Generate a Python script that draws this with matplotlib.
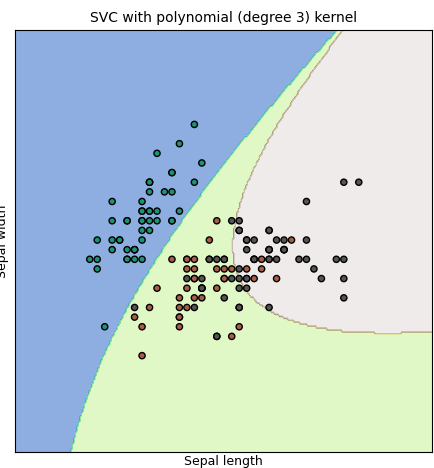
import numpy as np
import matplotlib
matplotlib.use("Agg")
import matplotlib.pyplot as plt

# iris: sepal length / sepal width per species
setosa_length = [5.1, 4.9, 4.7, 4.6, 5.0, 5.4, 4.6, 5.0, 4.4, 4.9, 5.4, 4.8, 4.8, 4.3, 5.8, 5.7, 5.4,
                 5.1, 5.7, 5.1, 5.4, 5.1, 4.6, 5.1, 4.8, 5.0, 5.0, 5.2, 5.2, 4.7, 4.8, 5.4, 5.2, 5.5,
                 4.9, 5.0, 5.5, 4.9, 4.4, 5.1, 5.0, 4.5, 4.4, 5.0, 5.1, 4.8, 5.1, 4.6, 5.3, 5.0]
setosa_width = [3.5, 3.0, 3.2, 3.1, 3.6, 3.9, 3.4, 3.4, 2.9, 3.1, 3.7, 3.4, 3.0, 3.0, 4.0, 4.4, 3.9,
                3.5, 3.8, 3.8, 3.4, 3.7, 3.6, 3.3, 3.4, 3.0, 3.4, 3.5, 3.4, 3.2, 3.1, 3.4, 4.1, 4.2,
                3.1, 3.2, 3.5, 3.1, 3.0, 3.4, 3.5, 2.3, 3.2, 3.5, 3.8, 3.0, 3.8, 3.2, 3.7, 3.3]
versicolor_length = [7.0, 6.4, 6.9, 5.5, 6.5, 5.7, 6.3, 4.9, 6.6, 5.2, 5.0, 5.9, 6.0, 6.1, 5.6, 6.7, 5.6,
                     5.8, 6.2, 5.6, 5.9, 6.1, 6.3, 6.1, 6.4, 6.6, 6.8, 6.7, 6.0, 5.7, 5.5, 5.5, 5.8, 6.0,
                     5.4, 6.0, 6.7, 6.3, 5.6, 5.5, 5.5, 6.1, 5.8, 5.0, 5.6, 5.7, 5.7, 6.2, 5.1, 5.7]
versicolor_width = [3.2, 3.2, 3.1, 2.3, 2.8, 2.8, 3.3, 2.4, 2.9, 2.7, 2.0, 3.0, 2.2, 2.9, 2.9, 3.1, 3.0,
                    2.7, 2.2, 2.5, 3.2, 2.8, 2.5, 2.8, 2.9, 3.0, 2.8, 3.0, 2.9, 2.6, 2.4, 2.4, 2.7, 2.7,
                    3.0, 3.4, 3.1, 2.3, 3.0, 2.5, 2.6, 3.0, 2.6, 2.3, 2.7, 3.0, 2.9, 2.9, 2.5, 2.8]
virginica_length = [6.3, 5.8, 7.1, 6.3, 6.5, 7.6, 4.9, 7.3, 6.7, 7.2, 6.5, 6.4, 6.8, 5.7, 5.8, 6.4, 6.5,
                    7.7, 7.7, 6.0, 6.9, 5.6, 7.7, 6.3, 6.7, 7.2, 6.2, 6.1, 6.4, 7.2, 7.4, 7.9, 6.4, 6.3,
                    6.1, 7.7, 6.3, 6.4, 6.0, 6.9, 6.7, 6.9, 5.8, 6.8, 6.7, 6.7, 6.3, 6.5, 6.2, 5.9]
virginica_width = [3.3, 2.7, 3.0, 2.9, 3.0, 3.0, 2.5, 2.9, 2.5, 3.6, 3.2, 2.7, 3.0, 2.5, 2.8, 3.2, 3.0,
                   3.8, 2.6, 2.2, 3.2, 2.8, 2.8, 2.7, 3.3, 3.2, 2.8, 3.0, 2.8, 3.0, 2.8, 3.8, 2.8, 2.8,
                   2.6, 3.0, 3.4, 3.1, 3.0, 3.1, 3.1, 3.1, 2.7, 3.2, 3.3, 3.0, 2.5, 3.0, 3.4, 3.0]

C = 1.0
degree = 3
gamma = 0.5  # 1 / n_features
point_colors = ["#1a9474", "#ab5c44", "#555555"]


def kernel(A, B):
    return (gamma * A @ B.T) ** degree


def smo(K, y, C, eps=1e-3, max_iter=200000):
    # libsvm style solver with second order working set selection
    n = len(y)
    Q = (y[:, None] * y[None, :]) * K
    QD = np.diag(K).copy()
    a = np.zeros(n)
    G = -np.ones(n)
    for it in range(max_iter):
        up = ((y > 0) & (a < C)) | ((y < 0) & (a > 0))
        low = ((y > 0) & (a > 0)) | ((y < 0) & (a < C))
        yG = -y * G
        idx_up = np.where(up)[0]
        i = idx_up[np.argmax(yG[idx_up])]
        Gmax = yG[i]
        Gmin = yG[low].min()
        if Gmax - Gmin < eps:
            break
        cand = np.where(low & (yG < Gmax))[0]
        b = Gmax - yG[cand]
        quad = QD[i] + QD[cand] - 2 * K[i, cand]
        quad[quad <= 0] = 1e-12
        j = cand[np.argmin(-(b * b) / quad)]

        old_ai, old_aj = a[i], a[j]
        if y[i] != y[j]:
            qc = QD[i] + QD[j] + 2 * Q[i, j]
            if qc <= 0:
                qc = 1e-12
            delta = (-G[i] - G[j]) / qc
            diff = a[i] - a[j]
            a[i] += delta
            a[j] += delta
            if diff > 0:
                if a[j] < 0:
                    a[j] = 0
                    a[i] = diff
            else:
                if a[i] < 0:
                    a[i] = 0
                    a[j] = -diff
            if diff > 0:
                if a[i] > C:
                    a[i] = C
                    a[j] = C - diff
            else:
                if a[j] > C:
                    a[j] = C
                    a[i] = C + diff
        else:
            qc = QD[i] + QD[j] - 2 * Q[i, j]
            if qc <= 0:
                qc = 1e-12
            delta = (G[i] - G[j]) / qc
            s = a[i] + a[j]
            a[i] -= delta
            a[j] += delta
            if s > C:
                if a[i] > C:
                    a[i] = C
                    a[j] = s - C
            else:
                if a[j] < 0:
                    a[j] = 0
                    a[i] = s
            if s > C:
                if a[j] > C:
                    a[j] = C
                    a[i] = s - C
            else:
                if a[i] < 0:
                    a[i] = 0
                    a[j] = s
        G += Q[:, i] * (a[i] - old_ai) + Q[:, j] * (a[j] - old_aj)

    # rho
    yG = y * G
    free = (a > 0) & (a < C)
    if free.any():
        rho = yG[free].mean()
    else:
        at_up = a >= C
        ub_mask = (at_up & (y < 0)) | (~at_up & (y > 0))
        lb_mask = ~ub_mask
        rho = (yG[ub_mask].min() + yG[lb_mask].max()) / 2
    return a, rho


def fit_predict(X, labels, grid):
    classes = np.unique(labels)
    votes = np.zeros((len(grid), len(classes)), dtype=int)
    for p in range(len(classes)):
        for q in range(p + 1, len(classes)):
            mask = (labels == classes[p]) | (labels == classes[q])
            Xs = X[mask]
            ys = np.where(labels[mask] == classes[p], 1.0, -1.0)
            a, rho = smo(kernel(Xs, Xs), ys, C)
            sv = a > 0
            dec = kernel(grid, Xs[sv]) @ (a[sv] * ys[sv]) - rho
            votes[dec > 0, p] += 1
            votes[dec <= 0, q] += 1
    return classes[np.argmax(votes, axis=1)]


X = np.column_stack([setosa_length + versicolor_length + virginica_length,
                     setosa_width + versicolor_width + virginica_width])
y = np.array([0] * len(setosa_length) + [1] * len(versicolor_length) + [2] * len(virginica_length))

h = .02
x_min, x_max = X[:, 0].min() - 1, X[:, 0].max() + 1
y_min, y_max = X[:, 1].min() - 1, X[:, 1].max() + 1
xx, yy = np.meshgrid(np.arange(x_min, x_max, h), np.arange(y_min, y_max, h))
Z = fit_predict(X, y, np.c_[xx.ravel(), yy.ravel()]).reshape(xx.shape)

fig = plt.figure(figsize=(4.34, 4.68), dpi=100)
ax = fig.add_axes([0.0346, 0.0342, 0.9608, 0.9017])
ax.contourf(xx, yy, Z, cmap=plt.cm.terrain, alpha=0.5)
ax.scatter(X[:, 0], X[:, 1], c=[point_colors[k] for k in y], s=20, edgecolors='k')
ax.set_xlim(xx.min(), xx.max())
ax.set_ylim(yy.min(), yy.max())
ax.set_xticks(())
ax.set_yticks(())
ax.set_xlabel('Sepal length', fontsize=9, labelpad=2)
ax.set_ylabel('Sepal width', fontsize=9)
ax.set_title('SVC with polynomial (degree 3) kernel', fontsize=10)
fig.savefig('out.png', dpi=100)
